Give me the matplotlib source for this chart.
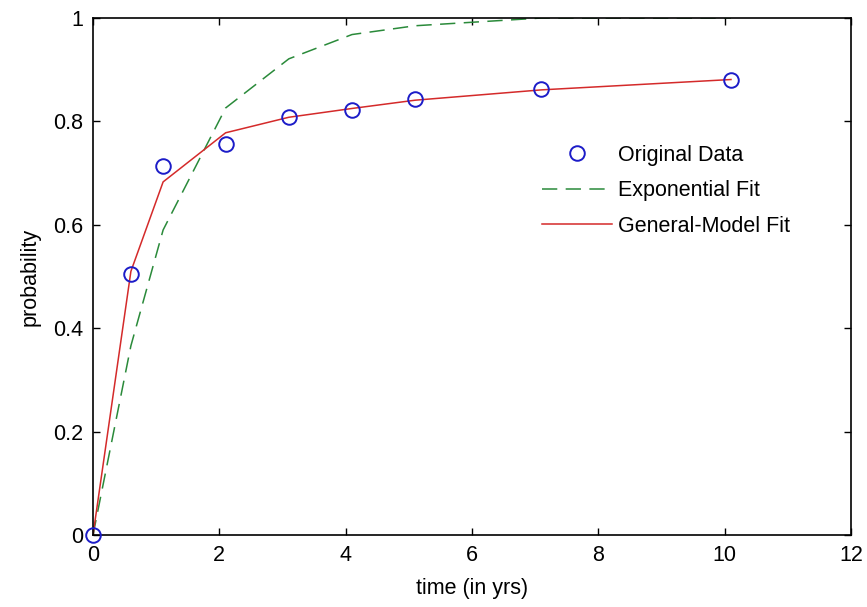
import matplotlib
matplotlib.use("Agg")
import matplotlib.pyplot as plt
from matplotlib.ticker import FuncFormatter

# original data
data_x = [0, 0.6, 1.11, 2.1, 3.1, 4.1, 5.1, 7.1, 10.1]
data_y = [0, 0.505, 0.713, 0.757, 0.808, 0.822, 0.843, 0.862, 0.880]

# exponential fit (green, dashed), evaluated at the data times
exp_y = [0, 0.366, 0.59, 0.826, 0.921, 0.968, 0.985, 1.0, 1.0]

# general-model fit (red), evaluated at the data times
gen_y = [0, 0.51, 0.683, 0.778, 0.808, 0.825, 0.841, 0.861, 0.881]

x_ticks = [0, 2, 4, 6, 8, 10, 12]
y_ticks = [0, 0.2, 0.4, 0.6, 0.8, 1]

plt.rcParams['font.family'] = ['Liberation Sans', 'DejaVu Sans']

fig = plt.figure(figsize=(8.67, 6.07), dpi=100)
ax = fig.add_axes([93 / 867, 1 - 535 / 607, (851 - 93) / 867, (535 - 18) / 607])

ax.plot(data_x, data_y, 'o', mfc='none', mec='#1c1cc8', mew=1.4, ms=10.5,
        label='Original Data', clip_on=False, zorder=3)
ln, = ax.plot(data_x, exp_y, '--', color='#2a8a3a', lw=1.1, label='Exponential Fit')
ln.set_dashes((10, 5.5))
ax.plot(data_x, gen_y, '-', color='#d42a2a', lw=1.1, label='General-Model Fit')

ax.set_xlim(0, 12)
ax.set_ylim(0, 1)
ax.set_xticks(x_ticks)
ax.set_yticks(y_ticks)
ax.yaxis.set_major_formatter(FuncFormatter(lambda v, p: ('%g' % v)))
ax.tick_params(direction='in', length=5, width=1, top=True, right=True,
               labelsize=15.5, colors='black')
ax.tick_params(axis='x', pad=7)
ax.tick_params(axis='y', pad=7)
for s in ax.spines.values():
    s.set_linewidth(1.2)

ax.set_xlabel('time (in yrs)', fontsize=15.5, labelpad=9)
ax.set_ylabel('probability', fontsize=15.5, labelpad=9)

ax.legend(loc='upper left', bbox_to_anchor=(542 / 867, 1 - 145 / 607),
          bbox_transform=fig.transFigure, frameon=False, fontsize=15.5,
          handlelength=3.25, handletextpad=0.28, labelspacing=0.67,
          borderpad=0, borderaxespad=0)

fig.savefig('out.png', dpi=100)
